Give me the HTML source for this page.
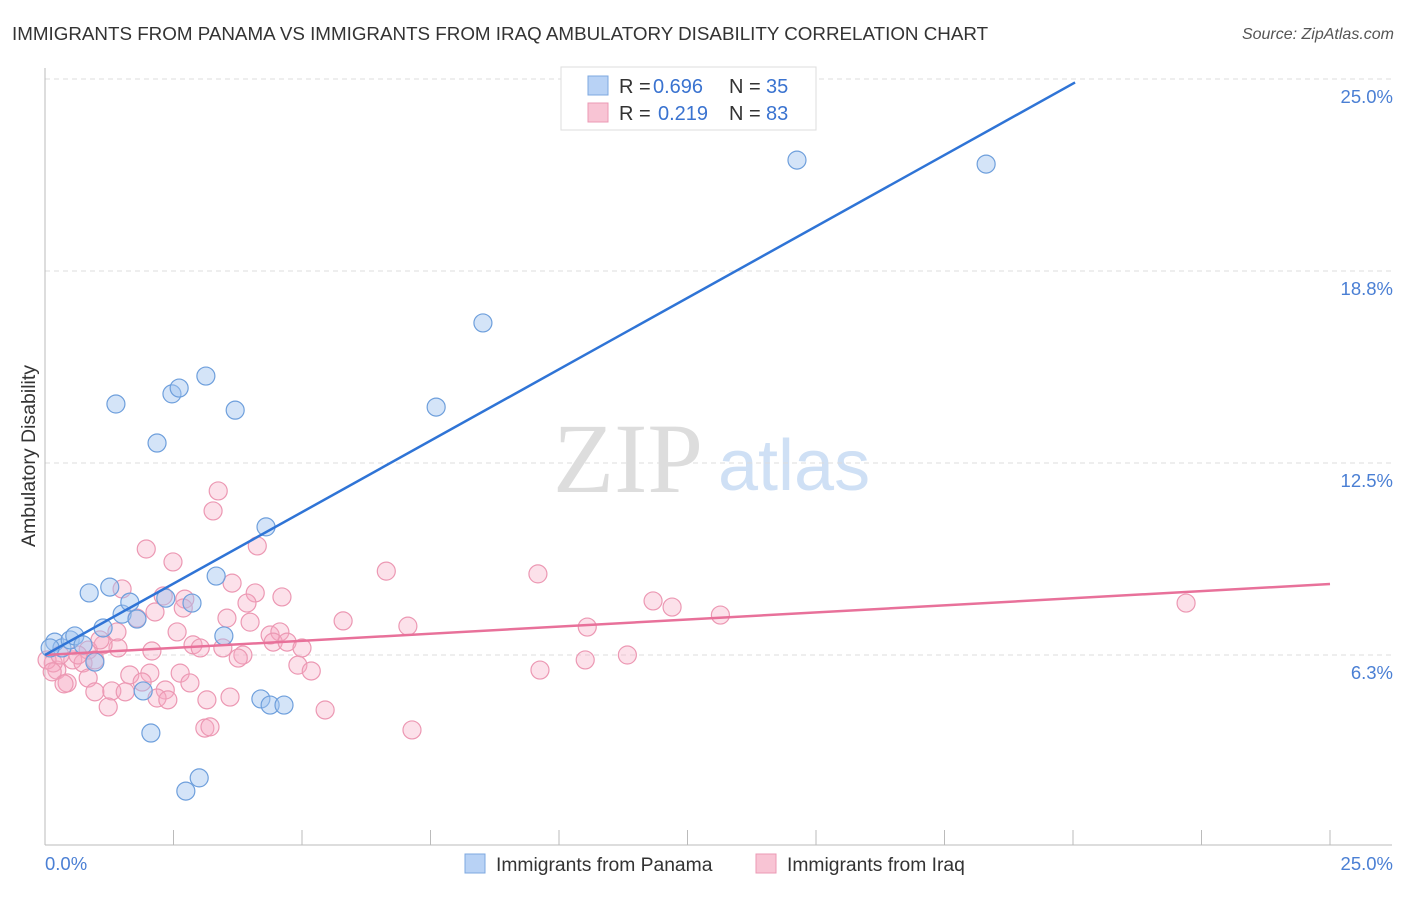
<!DOCTYPE html>
<html><head><meta charset="utf-8"><style>
body{margin:0;background:#fff;font-family:"Liberation Sans",sans-serif;}
svg text{font-family:"Liberation Sans",sans-serif;}
</style></head><body>
<svg id="chart" width="1406" height="892" viewBox="0 0 1406 892">
<text x="12" y="40" font-size="18.8" fill="#333">IMMIGRANTS FROM PANAMA VS IMMIGRANTS FROM IRAQ AMBULATORY DISABILITY CORRELATION CHART</text>
<text x="1394" y="39" font-size="16" fill="#555" font-style="italic" text-anchor="end">Source: ZipAtlas.com</text>
<g>
<text x="553" y="492" font-size="100" fill="#ddd" style="font-family:'Liberation Serif',serif">ZIP</text>
<text x="718" y="490" font-size="72" fill="#cfe0f5">atlas</text>
</g>
<g id="grid"></g>
<g id="axes"></g>
<g id="pink"></g>
<g id="blue"></g>
<g id="trends"></g>
<text x="35" y="456" font-size="19.5" fill="#333" text-anchor="middle" transform="rotate(-90 35 456)">Ambulatory Disability</text>
<g>
<rect x="561" y="67" width="255" height="63" fill="#fff" stroke="#ddd"/>
<rect x="588" y="76" width="20" height="19" fill="#b8d2f5" stroke="#7ea8e0"/>
<rect x="588" y="103" width="20" height="19" fill="#f8c4d4" stroke="#eb9ab4"/>
<text x="619" y="93" font-size="20" fill="#333">R =</text>
<text x="653" y="93" font-size="20" fill="#3a73d0">0.696</text>
<text x="729" y="93" font-size="20" fill="#333">N =</text>
<text x="766" y="93" font-size="20" fill="#3a73d0">35</text>
<text x="619" y="120" font-size="20" fill="#333">R =</text>
<text x="658" y="120" font-size="20" fill="#3a73d0">0.219</text>
<text x="729" y="120" font-size="20" fill="#333">N =</text>
<text x="766" y="120" font-size="20" fill="#3a73d0">83</text>
</g>
<g>
<rect x="465" y="854" width="20" height="19" fill="#b8d2f5" stroke="#7ea8e0"/>
<text x="496" y="871" font-size="19.3" fill="#333">Immigrants from Panama</text>
<rect x="756" y="854" width="20" height="19" fill="#f8c4d4" stroke="#eb9ab4"/>
<text x="787" y="871" font-size="19.3" fill="#333">Immigrants from Iraq</text>
</g>
</svg>
<script>
const yTicks=[6.25,12.5,18.75,25];
const yTickLabels=["6.3%","12.5%","18.8%","25.0%"];
const xTicks=[0,2.5,5,7.5,10,12.5,15,17.5,20,22.5,25];
const panamaX=[0.19,0.33,0.49,0.58,0.74,0.97,0.86,1.13,1.26,1.38,1.50,1.65,1.79,1.91,2.06,2.18,2.35,2.47,2.61,2.74,2.86,3.00,3.13,3.33,3.48,3.70,4.20,4.30,4.38,4.65,7.61,8.52,14.63,18.31,0.10];
const panamaY=[6.67,6.48,6.74,6.87,6.58,6.02,8.27,7.13,8.46,14.42,7.58,7.97,7.42,5.08,3.71,13.15,8.10,14.75,14.94,1.82,7.94,2.25,15.33,8.82,6.87,14.22,4.82,10.42,4.62,4.62,14.32,17.06,22.36,22.23,6.48];
const iraqX=[2.49,1.50,2.30,2.72,2.69,3.64,4.09,3.93,4.61,2.14,1.79,1.40,2.57,3.54,3.99,5.80,4.38,4.57,4.44,4.71,5.00,2.88,3.02,3.46,3.85,3.76,1.42,1.13,2.08,0.54,0.74,0.23,0.16,0.43,0.84,1.65,2.04,2.63,2.82,1.89,4.92,5.18,0.97,1.30,1.56,2.34,2.18,2.39,1.23,3.15,3.60,5.45,3.11,3.21,3.37,3.27,1.97,4.13,6.64,9.59,7.06,10.55,11.83,12.20,13.14,22.20,9.63,10.51,11.33,7.14,0.37,0.04,0.29,0.84,0.97,0.14,0.64,1.07];
const iraqY=[9.28,8.40,8.17,8.07,7.78,8.59,8.27,7.94,8.14,7.65,7.45,7.00,7.00,7.45,7.32,7.36,6.90,7.00,6.67,6.67,6.48,6.58,6.48,6.48,6.25,6.15,6.48,6.58,6.38,6.09,5.99,5.76,5.99,5.34,5.50,5.60,5.66,5.66,5.34,5.37,5.92,5.73,5.05,5.08,5.05,5.11,4.85,4.79,4.56,4.79,4.88,4.46,3.87,3.91,11.59,10.94,9.70,9.80,8.98,8.89,7.19,7.16,8.01,7.81,7.55,7.94,5.76,6.09,6.25,3.81,5.31,6.09,6.25,6.41,6.09,5.70,6.25,6.74];
const panamaTrend=[6.25,0.93];
const iraqTrend=[6.25,0.0924];
const panamaTrendMaxX=20.04;

const NS="http://www.w3.org/2000/svg";
const X0=45,X1=1330,Y0=847,PY=192/6.25;
const sx=v=>X0+(X1-X0)*v/25;
const sy=v=>Y0-v*PY;
function mk(tag,attrs,parent){const e=document.createElementNS(NS,tag);for(const k in attrs)e.setAttribute(k,attrs[k]);parent.appendChild(e);return e;}
const grid=document.getElementById('grid'),axes=document.getElementById('axes');
yTicks.forEach((t,i)=>{
  const l=mk('line',{x1:45,x2:1392,y1:sy(t),y2:sy(t),stroke:'#ddd','stroke-dasharray':'5,4'},grid);
  
  
  const tx=mk('text',{x:1393,y:sy(t)+24,'font-size':18.5,fill:'#4a7fd4','text-anchor':'end'},axes);
  tx.textContent=yTickLabels[i];
  
  
});
mk('line',{x1:45,x2:45,y1:68,y2:845,stroke:'#bbb'},axes);
mk('line',{x1:45,x2:1392,y1:845,y2:845,stroke:'#bbb'},axes);
xTicks.forEach(t=>{
  const l=mk('line',{x1:sx(t),x2:sx(t),y1:830,y2:845,stroke:'#bbb'},axes);
  
  
});
const xl0=mk('text',{x:45,y:870,'font-size':18.5,fill:'#4a7fd4'},axes);xl0.textContent='0.0%';


const xl1=mk('text',{x:1393,y:870,'font-size':18.5,fill:'#4a7fd4','text-anchor':'end'},axes);xl1.textContent='25.0%';


const pink=document.getElementById('pink');
iraqX.forEach((v,i)=>{
  const c=mk('circle',{cx:sx(v),cy:sy(iraqY[i]),r:9,fill:'rgba(246,170,195,0.35)',stroke:'#ec98b3','stroke-width':1.2},pink);
  
  
});
const blue=document.getElementById('blue');
panamaX.forEach((v,i)=>{
  const c=mk('circle',{cx:sx(v),cy:sy(panamaY[i]),r:9,fill:'rgba(160,195,240,0.45)',stroke:'#6e9fdc','stroke-width':1.2},blue);
  
  
});
const tr=document.getElementById('trends');
const pl=mk('line',{x1:sx(0),y1:sy(iraqTrend[0]),x2:sx(25),y2:sy(iraqTrend[0]+iraqTrend[1]*25),stroke:'#e8719a','stroke-width':2.5},tr);


const bl=mk('line',{x1:sx(0),y1:sy(panamaTrend[0]),x2:sx(panamaTrendMaxX),y2:sy(panamaTrend[0]+panamaTrend[1]*panamaTrendMaxX),stroke:'#2f74d6','stroke-width':2.5},tr);


</script>
</body></html>
